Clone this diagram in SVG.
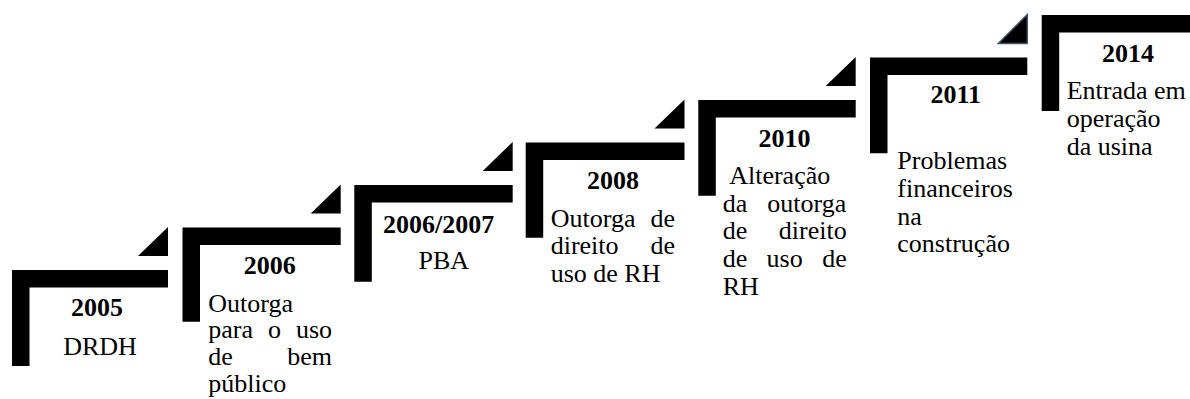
<svg xmlns="http://www.w3.org/2000/svg" width="1190" height="399" viewBox="0 0 1190 399">
<style>
.step{fill:#000;}
.tri{fill:#000;}
.tri2{fill:#000;stroke:#44546a;stroke-width:1.5;}
text{font-family:"Liberation Serif","Times New Roman",Tinos,Times,"Nimbus Roman","DejaVu Serif",serif;font-size:26px;font-weight:normal;font-style:normal;fill:#000;}
.yr{font-weight:bold;text-anchor:middle;}
.c{text-anchor:middle;}
</style>
<rect width="1190" height="399" fill="#fff"/>
<g id="connectors"></g>
<g id="node-2005">
<path class="step" d="M12,270H168V287.5H29.5V366H12Z"/>
<polygon class="tri" points="138,256 168,227 168,256"/>
<text class="yr" x="97" y="316">2005</text>
<text class="c" x="100" y="355">DRDH</text>
</g>
<g id="node-2006">
<path class="step" d="M182.5,227.5H340.7V245H200V321.7H182.5Z"/>
<polygon class="tri" points="310.7,213.5 340.7,184.5 340.7,213.5"/>
<text class="yr" x="269.7" y="274">2006</text>
<text x="208.3" y="311.5">Outorga</text>
<text y="338.3"><tspan x="208.3">para</tspan><tspan x="268.1">o</tspan><tspan x="295.9">uso</tspan></text>
<text y="365"><tspan x="208.3">de</tspan><tspan x="287.2">bem</tspan></text>
<text x="208.3" y="391.7">público</text>
</g>
<g id="node-2006-2007">
<path class="step" d="M354.3,185H512.7V202.5H371.8V281.7H354.3Z"/>
<polygon class="tri" points="482.7,171 512.7,142 512.7,171"/>
<text class="yr" x="438.7" y="232.7">2006/2007</text>
<text class="c" x="443.8" y="269.3">PBA</text>
</g>
<g id="node-2008">
<path class="step" d="M525.7,142.5H684.5V160H543.2V237.7H525.7Z"/>
<polygon class="tri" points="654.5,128.5 684.5,99.5 684.5,128.5"/>
<text class="yr" x="613" y="189">2008</text>
<text y="226.7"><tspan x="550.7">Outorga</tspan><tspan x="650.5">de</tspan></text>
<text y="254.3"><tspan x="550.7">direito</tspan><tspan x="650.5">de</tspan></text>
<text x="550.7" y="281.7">uso de RH</text>
</g>
<g id="node-2010">
<path class="step" d="M698.3,100H855.7V117.5H715.8V195.7H698.3Z"/>
<polygon class="tri" points="825.7,86 855.7,57 855.7,86"/>
<text class="yr" x="784.5" y="146.7">2010</text>
<text x="729.2" y="184.3">Alteração</text>
<text y="211.7"><tspan x="722.7">da</tspan><tspan x="767.3">outorga</tspan></text>
<text y="239.3"><tspan x="722.7">de</tspan><tspan x="778.8">direito</tspan></text>
<text y="266.9"><tspan x="722.7">de</tspan><tspan x="766.6">uso</tspan><tspan x="822.2">de</tspan></text>
<text x="722.7" y="294.5">RH</text>
</g>
<g id="node-2011">
<path class="step" d="M870,57.5H1027.3V75H887.5V153.3H870Z"/>
<polygon class="tri2" points="998.3,43.5 1027.3,14.5 1027.3,43.5"/>
<text class="yr" x="955.8" y="103.3">2011</text>
<text x="897.3" y="169.3">Problemas</text>
<text x="897.3" y="197.3">financeiros</text>
<text x="897.3" y="224.8">na</text>
<text x="897.3" y="252.3">construção</text>
</g>
<g id="node-2014">
<path class="step" d="M1041.7,15H1195V32.5H1059.2V111H1041.7Z"/>
<text class="yr" x="1128" y="61.7">2014</text>
<text x="1066.7" y="99.3">Entrada em</text>
<text x="1066.7" y="127">operação</text>
<text x="1066.7" y="154.7">da usina</text>
</g>
</svg>
